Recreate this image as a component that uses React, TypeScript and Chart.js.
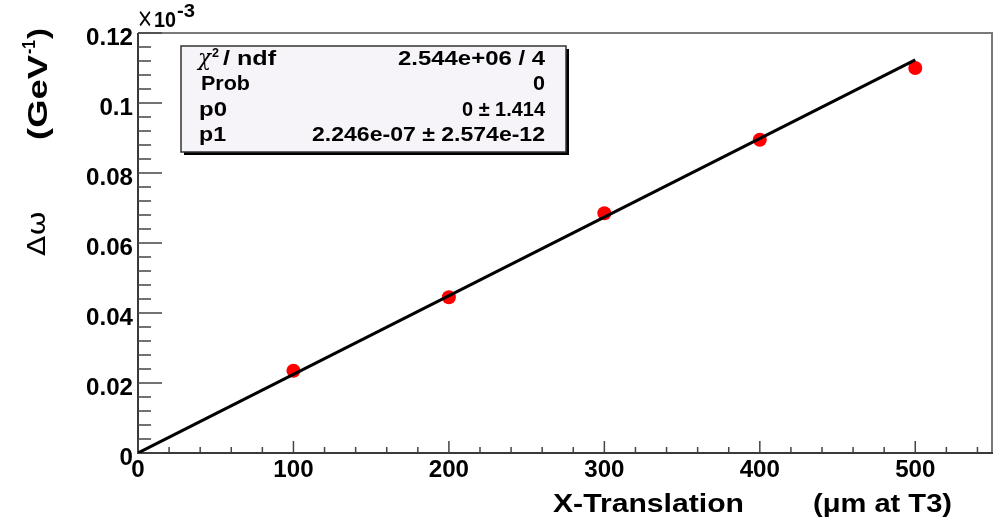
import React, { useEffect, useRef } from "react";
import { Chart, registerables } from "chart.js";

Chart.register(...registerables);

// ---- data ----
const xTranslation = [100, 200, 300, 400, 500];
const deltaOmega = [0.0235, 0.0445, 0.0685, 0.0895, 0.11];
const fitX = [0, 500];
const fitY = [0, 0.1123];
const xTicks = [0, 100, 200, 300, 400, 500];
const xTickLabels = ["0", "100", "200", "300", "400", "500"];
const yTicks = [0, 0.02, 0.04, 0.06, 0.08, 0.1, 0.12];
const yTickLabels = ["0", "0.02", "0.04", "0.06", "0.08", "0.1", "0.12"];
const statNames = ["χ", "Prob", "p0", "p1"];
const statValues = ["2.544e+06 / 4", "0", "0 ± 1.414", "2.246e-07 ± 2.574e-12"];

const SANS = "'Liberation Sans', Arial, Helvetica, sans-serif";

function fitText(ctx: CanvasRenderingContext2D, text: string, x: number, y: number, width: number, align: "left" | "right" | "center") {
  const w = ctx.measureText(text).width;
  const s = width / w;
  const x0 = align === "left" ? x : align === "right" ? x - width : x - width / 2;
  ctx.save();
  ctx.translate(x0, y);
  ctx.scale(s, 1);
  ctx.textAlign = "left";
  ctx.fillText(text, 0, 0);
  ctx.restore();
}

function scaledText(ctx: CanvasRenderingContext2D, text: string, x: number, y: number, sx: number, align: "left" | "right" | "center") {
  const w = ctx.measureText(text).width * sx;
  fitText(ctx, text, x, y, w, align);
}

const rootPlugin = {
  id: "rootStyle",
  beforeDatasetsDraw(chart: any) {
    const ctx: CanvasRenderingContext2D = chart.ctx;
    const { left, right, top, bottom } = chart.chartArea;
    const xs = chart.scales.x;
    const ys = chart.scales.y;
    ctx.save();
    // frame top/right
    ctx.strokeStyle = "#7a7a7a";
    ctx.lineWidth = 2;
    ctx.beginPath();
    ctx.moveTo(left, top);
    ctx.lineTo(right - 1, top);
    ctx.lineTo(right - 1, bottom);
    ctx.stroke();
    // axes
    ctx.strokeStyle = "#3a3a3a";
    ctx.lineWidth = 2;
    ctx.beginPath();
    ctx.moveTo(left, top);
    ctx.lineTo(left, bottom);
    ctx.lineTo(right, bottom);
    ctx.stroke();
    // ticks
    ctx.lineWidth = 1.5;
    ctx.strokeStyle = "#444";
    ctx.beginPath();
    for (let v = 0; v <= 550; v += 20) {
      const px = xs.getPixelForValue(v);
      if (px > right - 3) break;
      const major = v % 100 === 0;
      ctx.moveTo(px, bottom);
      ctx.lineTo(px, bottom - (major ? 12 : 6));
    }
    for (let i = 0; i <= 30; i++) {
      const v = i * 0.004;
      const py = ys.getPixelForValue(v);
      const major = i % 5 === 0;
      ctx.moveTo(left, py);
      ctx.lineTo(left + (major ? 24 : 13), py);
    }
    ctx.stroke();
    ctx.restore();
  },
  afterDatasetsDraw(chart: any) {
    const ctx: CanvasRenderingContext2D = chart.ctx;
    const xs = chart.scales.x;
    const ys = chart.scales.y;
    ctx.save();
    ctx.fillStyle = "#000";
    ctx.textBaseline = "alphabetic";
    // y tick labels
    ctx.font = `bold 23px ${SANS}`;
    yTicks.forEach((v, i) => {
      scaledText(ctx, yTickLabels[i], 133, ys.getPixelForValue(v) + 11.5, 1.05, "right");
    });
    // x tick labels
    ctx.font = `bold 23px ${SANS}`;
    xTicks.forEach((v, i) => {
      scaledText(ctx, xTickLabels[i], xs.getPixelForValue(v), 477, 1.05, "center");
    });
    // x10^-3
    ctx.font = `26px 'DejaVu Sans', sans-serif`;
    fitText(ctx, "×", 137, 27, 16, "left");
    ctx.font = `bold 22px ${SANS}`;
    fitText(ctx, "10", 154, 27, 22, "left");
    ctx.font = `bold 18px ${SANS}`;
    fitText(ctx, "-3", 177, 17, 18, "left");
    // x title
    ctx.font = `bold 26px ${SANS}`;
    fitText(ctx, "X-Translation", 553, 512, 191, "left");
    fitText(ctx, "(μm at T3)", 813, 512, 139, "left");
    // y title (rotated)
    ctx.save();
    ctx.translate(47, 140);
    ctx.rotate(-Math.PI / 2);
    ctx.font = `bold 28px ${SANS}`;
    fitText(ctx, "(GeV", 0, 0, 85, "left");
    ctx.font = `bold 18px ${SANS}`;
    fitText(ctx, "-1", 86, -12, 14, "left");
    ctx.font = `bold 28px ${SANS}`;
    fitText(ctx, ")", 101, 0, 11, "left");
    ctx.restore();
    ctx.save();
    ctx.translate(45, 256);
    ctx.rotate(-Math.PI / 2);
    ctx.font = `24px 'DejaVu Sans', sans-serif`;
    fitText(ctx, "Δω", 0, 0, 45, "left");
    ctx.restore();

    // stats box
    const bx = 181, by = 46, bw = 385, bh = 106;
    ctx.fillStyle = "#000";
    ctx.fillRect(bx + 3, by + bh, bw, 3);
    ctx.fillRect(bx + bw, by + 3, 3, bh);
    ctx.fillStyle = "#f6f4f8";
    ctx.fillRect(bx, by, bw, bh);
    ctx.strokeStyle = "#333";
    ctx.lineWidth = 1.5;
    ctx.strokeRect(bx, by, bw, bh);

    ctx.fillStyle = "#000";
    const baselines = [64.5, 90, 115.5, 141];
    // chi2 row
    ctx.font = `italic 22px 'DejaVu Serif', serif`;
    fitText(ctx, statNames[0], 198, baselines[0], 13, "left");
    ctx.font = `bold 13px ${SANS}`;
    fitText(ctx, "2", 212, baselines[0] - 8, 7, "left");
    ctx.font = `bold 20px ${SANS}`;
    fitText(ctx, "/ ndf", 223, baselines[0], 53, "left");
    fitText(ctx, statNames[1], 201, baselines[1], 49, "left");
    fitText(ctx, statNames[2], 199, baselines[2], 28, "left");
    fitText(ctx, statNames[3], 199, baselines[3], 27, "left");
    const valueWidths = [147, 12, 83, 233];
    statValues.forEach((s, i) => {
      fitText(ctx, s, 545, baselines[i], valueWidths[i], "right");
    });
    ctx.restore();
  },
};

export default function App() {
  const ref = useRef<HTMLCanvasElement | null>(null);
  useEffect(() => {
    if (!ref.current) return;
    const chart = new Chart(ref.current, {
      type: "scatter",
      data: {
        datasets: [
          {
            type: "line",
            label: "fit",
            data: fitX.map((x, i) => ({ x, y: fitY[i] })),
            borderColor: "#000",
            borderWidth: 3,
            pointRadius: 0,
            fill: false,
          } as any,
          {
            type: "scatter",
            label: "data",
            data: xTranslation.map((x, i) => ({ x, y: deltaOmega[i] })),
            backgroundColor: "#ff0000",
            borderColor: "#ff0000",
            borderWidth: 0,
            pointRadius: 7,
          },
        ],
      },
      options: {
        responsive: false,
        animation: false,
        events: [],
        layout: { autoPadding: false, padding: { left: 138, right: 1, top: 33, bottom: 68 } },
        plugins: { legend: { display: false }, tooltip: { enabled: false } },
        scales: {
          x: { type: "linear", min: 0, max: 550, display: false },
          y: { type: "linear", min: 0, max: 0.12, display: false },
        },
      },
      plugins: [rootPlugin],
    });
    return () => chart.destroy();
  }, []);
  return (
    <div style={{ position: "fixed", left: 0, top: 0, width: 994, height: 521, background: "#fff" }}>
      <canvas ref={ref} width={994} height={521} style={{ display: "block" }} />
    </div>
  );
}
